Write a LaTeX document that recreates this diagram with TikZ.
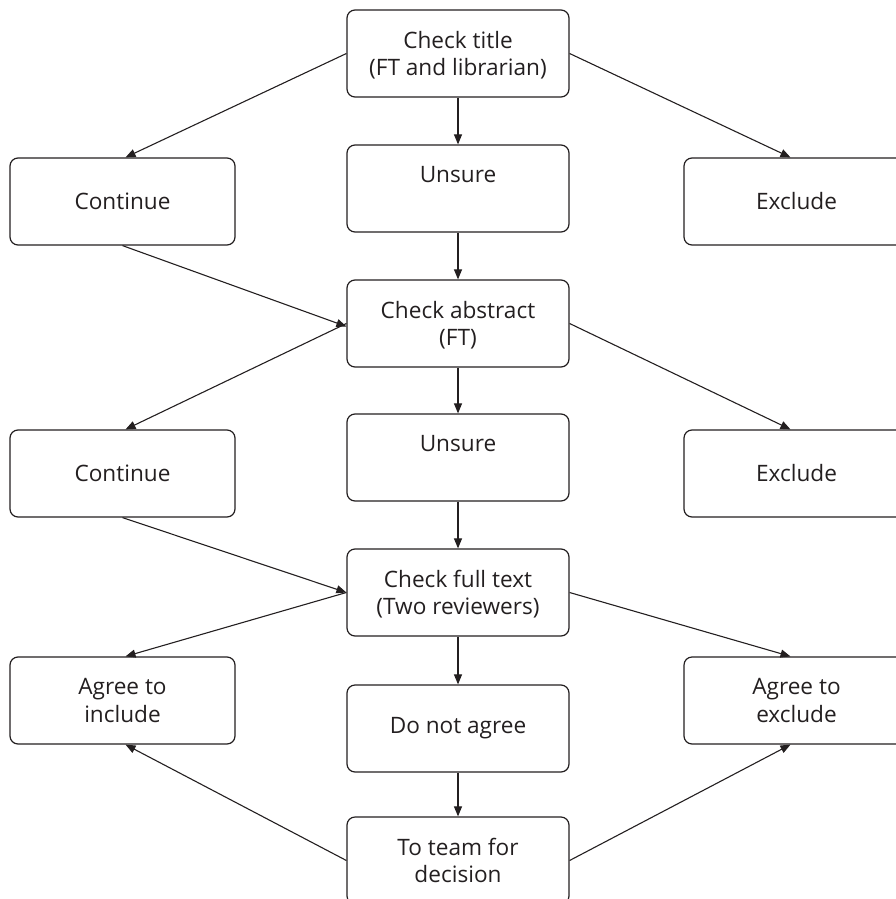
\documentclass[tikz,border=0pt]{standalone}
\usepackage{fontspec}
\setmainfont{Open Sans}
\usetikzlibrary{arrows.meta}
\definecolor{ink}{HTML}{231F20}
\begin{document}
\begin{tikzpicture}[x=1pt,y=-1pt,
  box/.style={draw=ink, line width=1.2pt, rounded corners=8pt, align=center,
    text=ink, font=\fontsize{22.6}{27.5}\selectfont, inner sep=0pt},
  midbox/.style={box, minimum width=222pt, minimum height=87pt},
  sidebox/.style={box, minimum width=225pt, minimum height=87pt},
  link/.style={draw=ink, line width=1.1pt, -{Triangle[length=10pt,width=8pt]}}]
  \useasboundingbox (0,0) rectangle (896,899);
  \clip (0,0) rectangle (896,899);

  % centre column (bracketed second lines are smashed so their depth
  % does not lift the text block)
  \node[midbox] (title)    at (458,53.5)  {Check title\\\smash{(FT and librarian)}};
  \node[midbox] (unsureA)  at (458,188.5) {Unsure\\\phantom{x}};
  \node[midbox] (abstract) at (458,323.5) {Check abstract\\\smash{(FT)}};
  \node[midbox] (unsureB)  at (458,457.5) {Unsure\\\phantom{x}};
  \node[midbox] (fulltext) at (458,592.5) {Check full text\\\smash{(Two reviewers)}};
  \node[midbox] (disagree) at (458,728.5) {Do not agree};
  \node[midbox] (team)     at (458,860.5) {To team for\\decision};

  % side columns
  \node[sidebox] (contA)   at (122.5,201.5) {Continue};
  \node[sidebox] (exclA)   at (796.5,201.5) {Exclude};
  \node[sidebox] (contB)   at (122.5,473.5) {Continue};
  \node[sidebox] (exclB)   at (796.5,473.5) {Exclude};
  \node[sidebox] (include) at (122.5,700.5) {Agree to\\include};
  \node[sidebox] (exclude) at (796.5,700.5) {Agree to\\exclude};

  % title screening
  \draw[link] (title.west) -- ([xshift=3pt]contA.north);
  \draw[link] (title.south) -- (unsureA.north);
  \draw[link] (title.east) -- ([xshift=-6pt]exclA.north);
  % abstract screening
  \draw[link] (contA.south) -- ([yshift=-3pt]abstract.west);
  \draw[link] (unsureA.south) -- (abstract.north);
  \draw[link] (abstract.west) -- ([xshift=3pt]contB.north);
  \draw[link] (abstract.south) -- (unsureB.north);
  \draw[link] (abstract.east) -- ([xshift=-6pt]exclB.north);
  % full-text screening
  \draw[link] (contB.south) -- (fulltext.west);
  \draw[link] (unsureB.south) -- (fulltext.north);
  \draw[link] (fulltext.west) -- ([xshift=3pt]include.north);
  \draw[link] (fulltext.south) -- (disagree.north);
  \draw[link] (fulltext.east) -- ([xshift=-6pt]exclude.north);
  % disagreement resolution
  \draw[link] (disagree.south) -- (team.north);
  \draw[link] (team.west) -- ([xshift=3pt]include.south);
  \draw[link] (team.east) -- ([xshift=-6pt]exclude.south);
\end{tikzpicture}
\end{document}
